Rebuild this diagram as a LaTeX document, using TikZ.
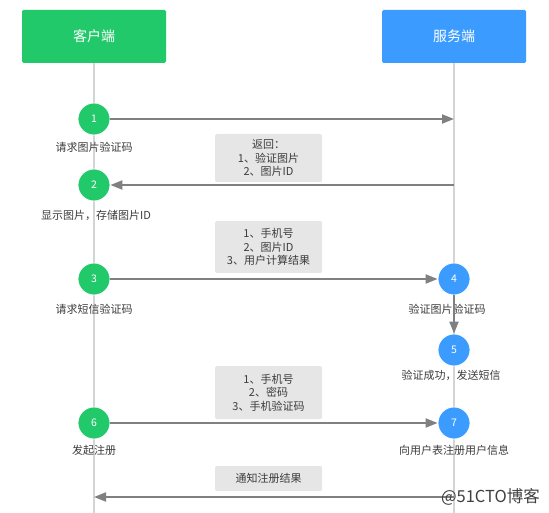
\documentclass[tikz,border=0pt]{standalone}
\usepackage{fontspec}
\setmainfont{Noto Sans CJK SC}
\usetikzlibrary{arrows.meta}
\definecolor{clientgreen}{RGB}{34,201,107}
\definecolor{serverblue}{RGB}{59,155,255}
\definecolor{msggray}{RGB}{230,230,230}
\definecolor{arrowgray}{RGB}{128,128,128}
\definecolor{lifegray}{RGB}{212,212,212}
\definecolor{textgray}{RGB}{60,60,60}
\tikzset{
  party/.style={
    minimum width=144pt,
    minimum height=53pt,
    inner sep=0pt,
    rounded corners=1.5pt,
    text=white,
    font=\fontsize{14}{16}\selectfont
  },
  stepdot/.style={
    circle,
    minimum size=32pt,
    inner sep=0pt,
    draw=white,
    line width=0.8pt,
    text=white,
    font=\fontsize{10.5}{12}\selectfont
  },
  steplabel/.style={
    inner sep=0pt,
    text=textgray,
    font=\fontsize{11}{12}\selectfont
  },
  msgbox/.style={
    fill=msggray,
    rounded corners=1.5pt,
    minimum width=107pt,
    inner sep=0pt,
    align=center,
    text=textgray,
    font=\fontsize{11}{13.5}\selectfont
  },
  msg/.style={
    draw=arrowgray,
    line width=2pt,
    -{Triangle[length=12pt,width=9pt]}
  },
  lifeline/.style={draw=lifegray,line width=1.5pt}
}

\begin{document}
\begin{tikzpicture}[x=1pt,y=-1pt]
\def\xc{94}
\def\xs{454}
\def\xm{268.5}
\useasboundingbox (0,0) rectangle (549,513);
\node[party,fill=clientgreen] (client) at (\xc,36.5) {客户端};
\node[party,fill=serverblue ] (server) at (\xs,36.5) {服务端};
\coordinate (clientend) at (\xc,513);
\coordinate (serverend) at (\xs,513);
\draw[lifeline] (client) -- (clientend);
\draw[lifeline] (server) -- (serverend);
% steps
\node[stepdot,fill=clientgreen] (s1) at (\xc,119) {1};
\node[stepdot,fill=clientgreen] (s2) at (\xc,185) {2};
\node[stepdot,fill=clientgreen] (s3) at (\xc,279) {3};
\node[stepdot,fill=serverblue ] (s4) at (\xs,279) {4};
\node[stepdot,fill=serverblue ] (s5) at (\xs,350) {5};
\node[stepdot,fill=clientgreen] (s6) at (\xc,423) {6};
\node[stepdot,fill=serverblue ] (s7) at (\xs,423) {7};
\node[steplabel] (l1) at (\xc,147) {请求图片验证码};
\node[steplabel] (l2) at (96,215)  {显示图片，存储图片ID};
\node[steplabel] (l3) at (\xc,309) {请求短信验证码};
\node[steplabel] (l4) at (447,309) {验证图片验证码};
\node[steplabel] (l5) at (451,375) {验证成功，发送短信};
\node[steplabel] (l6) at (\xc,450) {发起注册};
\node[steplabel] (l7) at (\xs,450) {向用户表注册用户信息};
% messages
\node[msgbox,minimum height=48pt] (mA) at (\xm,158)   {返回：\\1、验证图片\\2、图片ID};
\node[msgbox,minimum height=52pt] (mB) at (\xm,247)   {1、手机号\\2、图片ID\\3、用户计算结果};
\node[msgbox,minimum height=53pt] (mC) at (\xm,392.5) {1、手机号\\2、密码\\3、手机验证码};
\node[msgbox,minimum height=25pt] (mD) at (\xm,478.5) {通知注册结果};
\coordinate (r1) at (\xs,119);
\coordinate (r2) at (\xs,185);
\coordinate (r8) at (\xs,497);
\coordinate (c8) at (\xc,497);
\draw[msg] (s1) -- (r1);
\draw[msg] (r2) -- (s2);
\draw[msg] (s3) -- (s4);
\draw[msg] (s4) -- (s5);
\draw[msg] (s6) -- (s7);
\draw[msg] (r8) -- (c8);
\node[anchor=east,inner sep=0pt,text=black!75,font=\fontsize{16.5}{18}\selectfont] (mark) at (540,497) {@51CTO博客};
\end{tikzpicture}
\end{document}
